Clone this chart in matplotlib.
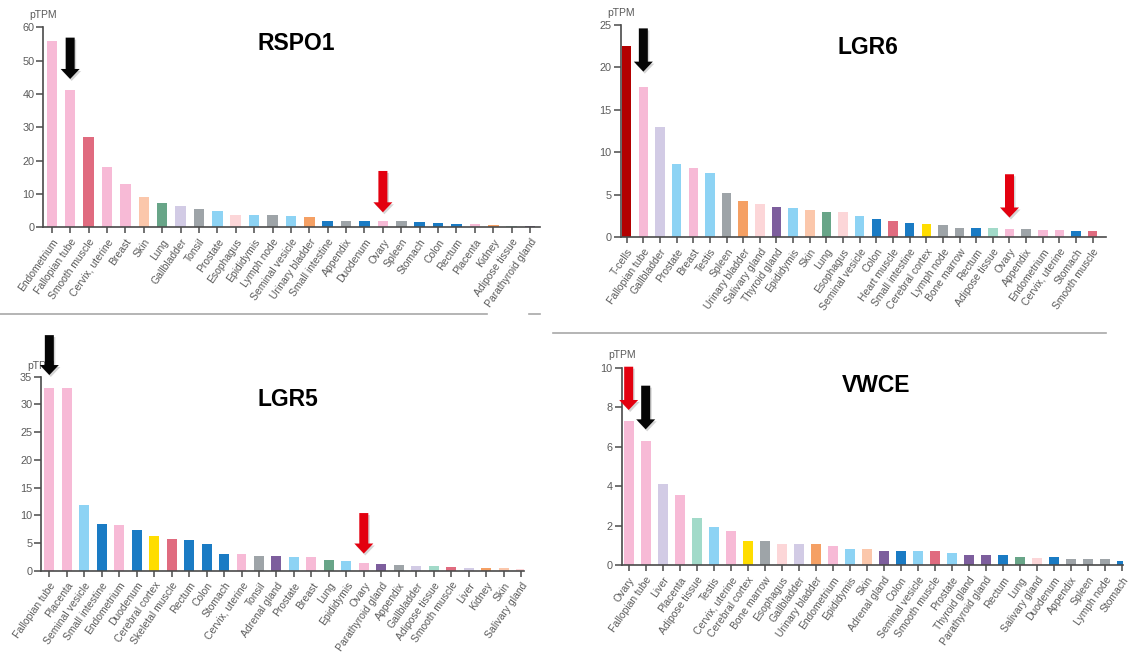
import matplotlib
matplotlib.use('Agg')
import matplotlib.pyplot as plt
from matplotlib.patches import Polygon
from matplotlib.lines import Line2D
from matplotlib.transforms import IdentityTransform

plt.rcParams['font.family'] = ['Liberation Sans', 'DejaVu Sans']

# ---------------- data ----------------
rspo1_tissues = ["Endometrium", "Fallopian tube", "Smooth muscle", "Cervix, uterine", "Breast", "Skin",
                 "Lung", "Gallbladder", "Tonsil", "Prostate", "Esophagus", "Epididymis", "Lymph node",
                 "Seminal vesicle", "Urinary bladder", "Small intestine", "Appendix", "Duodenum", "Ovary",
                 "Spleen", "Stomach", "Colon", "Rectum", "Placenta", "Kidney", "Adipose tissue",
                 "Parathyroid gland"]
rspo1_values = [55.9, 41.2, 27.2, 18.2, 13.0, 9.0, 7.2, 6.4, 5.4, 4.9, 3.6, 3.6, 3.6,
                3.4, 3.2, 2.0, 2.0, 2.0, 1.8, 1.8, 1.6, 1.2, 1.1, 1.0, 0.6, 0.5, 0.5]

lgr6_tissues = ["T-cells", "Fallopian tube", "Gallbladder", "Prostate", "Breast", "Testis", "Spleen",
                "Urinary bladder", "Salivary gland", "Thyroid gland", "Epididymis", "Skin", "Lung",
                "Esophagus", "Seminal vesicle", "Colon", "Heart muscle", "Small intestine",
                "Cerebral cortex", "Lymph node", "Bone marrow", "Rectum", "Adipose tissue", "Ovary",
                "Appendix", "Endometrium", "Cervix, uterine", "Stomach", "Smooth muscle"]
lgr6_values = [22.5, 17.7, 13.0, 8.6, 8.1, 7.5, 5.2, 4.2, 3.9, 3.5, 3.4, 3.2, 3.0, 3.0, 2.5, 2.1,
               1.9, 1.7, 1.5, 1.4, 1.1, 1.1, 1.1, 1.0, 1.0, 0.8, 0.8, 0.7, 0.7]

lgr5_tissues = ["Fallopian tube", "Placenta", "Seminal vesicle", "Small intestine", "Endometrium",
                "Duodenum", "Cerebral cortex", "Skeletal muscle", "Rectum", "Colon", "Stomach",
                "Cervix, uterine", "Tonsil", "Adrenal gland", "Prostate", "Breast", "Lung", "Epididymis",
                "Ovary", "Parathyroid gland", "Appendix", "Gallbladder", "Adipose tissue",
                "Smooth muscle", "Liver", "Kidney", "Skin", "Salivary gland"]
lgr5_values = [32.9, 32.9, 11.9, 8.5, 8.3, 7.4, 6.2, 5.75, 5.5, 4.85, 3.1, 2.95, 2.7, 2.6, 2.45,
               2.45, 2.0, 1.75, 1.3, 1.2, 0.95, 0.9, 0.85, 0.65, 0.55, 0.55, 0.5, 0.35]

vwce_tissues = ["Ovary", "Fallopian tube", "Liver", "Placenta", "Adipose tissue", "Testis",
                "Cervix, uterine", "Cerebral cortex", "Bone marrow", "Esophagus", "Gallbladder",
                "Urinary bladder", "Endometrium", "Epididymis", "Skin", "Adrenal gland", "Colon",
                "Seminal vesicle", "Smooth muscle", "Prostate", "Thyroid gland", "Parathyroid gland",
                "Rectum", "Lung", "Salivary gland", "Duodenum", "Appendix", "Spleen", "Lymph node",
                "Stomach"]
vwce_values = [7.3, 6.3, 4.1, 3.55, 2.4, 1.92, 1.73, 1.21, 1.21, 1.1, 1.1, 1.1, 1.0, 0.8, 0.8,
               0.72, 0.72, 0.72, 0.72, 0.62, 0.54, 0.54, 0.54, 0.4, 0.39, 0.4, 0.3, 0.3, 0.3, 0.22]

# ---------------- tissue group colours ----------------
PINK, MUSCLE, PEACH, GREEN = '#f7bad6', '#e06b7f', '#fbc7ab', '#68a588'
LAV, GRAY, LBLUE, LPINK = '#d2cbe5', '#9ea4a8', '#8dd3f4', '#fcd6d8'
ORANGE, BLUE, MINT, PURPLE = '#f5a064', '#1a7bc4', '#a2dac9', '#7d5e9d'
YELLOW, DRED = '#ffdd00', '#b30000'
tissue_color = {
    "Endometrium": PINK, "Fallopian tube": PINK, "Cervix, uterine": PINK, "Breast": PINK,
    "Ovary": PINK, "Placenta": PINK,
    "Smooth muscle": MUSCLE, "Heart muscle": MUSCLE, "Skeletal muscle": MUSCLE,
    "Skin": PEACH, "Lung": GREEN, "Gallbladder": LAV, "Liver": LAV,
    "Tonsil": GRAY, "Lymph node": GRAY, "Appendix": GRAY, "Spleen": GRAY, "Bone marrow": GRAY,
    "Prostate": LBLUE, "Epididymis": LBLUE, "Seminal vesicle": LBLUE, "Testis": LBLUE,
    "Esophagus": LPINK, "Salivary gland": LPINK,
    "Urinary bladder": ORANGE, "Kidney": ORANGE,
    "Small intestine": BLUE, "Duodenum": BLUE, "Stomach": BLUE, "Colon": BLUE, "Rectum": BLUE,
    "Adipose tissue": MINT,
    "Parathyroid gland": PURPLE, "Thyroid gland": PURPLE, "Adrenal gland": PURPLE,
    "Cerebral cortex": YELLOW, "T-cells": DRED,
}

W, H = 1130, 656
fig = plt.figure(figsize=(W / 100, H / 100), dpi=100)
fig.patch.set_facecolor('white')

AX_COL = '#4a4a4a'
TXT_COL = '#5a5a5a'


def make_panel(tissues, values, box, ymax, yticks, xpad, title, title_xy, ylab_y, arrows):
    left, right, y0, ytop = box
    ax = fig.add_axes([left / W, (H - y0) / H, (right - left) / W, (y0 - ytop) / H])
    x = list(range(len(tissues)))
    ax.bar(x, values, width=0.57, color=[tissue_color[t] for t in tissues], zorder=2)
    ax.set_xlim(xpad[0], len(tissues) - 1 + xpad[1])
    ax.set_ylim(0, ymax)
    ax.set_yticks(yticks)
    ax.set_xticks(x)
    ax.set_xticklabels(tissues, rotation=55, ha='right', va='top', rotation_mode='anchor',
                       fontsize=7.5, color=TXT_COL)
    ax.tick_params(axis='y', labelsize=7.8, labelcolor=TXT_COL, color=AX_COL, length=5, width=1.1, pad=1.5)
    ax.tick_params(axis='x', color=AX_COL, length=4, width=1.1, pad=3)
    for s in ['top', 'right']:
        ax.spines[s].set_visible(False)
    for s in ['left', 'bottom']:
        ax.spines[s].set_color(AX_COL)
        ax.spines[s].set_linewidth(1.2)
    ax.set_facecolor('none')
    fig.text(left / W, (H - ylab_y) / H, 'pTPM', ha='center', va='center', fontsize=7.5, color=TXT_COL)
    fig.text(title_xy[0] / W, (H - title_xy[1]) / H, title, ha='center', va='center',
             fontsize=16.5, fontweight='bold', color='black')
    # arrows (annotation marks pointing at categories)
    for idx, y_top, y_tip, col in arrows:
        xd, yt = ax.transData.transform((idx, y_tip))
        _, ys = ax.transData.transform((idx, y_top))
        sw, hw, hl = 9.0, 19.0, 10.0
        pts = [(xd - sw / 2, ys), (xd + sw / 2, ys), (xd + sw / 2, yt + hl), (xd + hw / 2, yt + hl),
               (xd, yt), (xd - hw / 2, yt + hl), (xd - sw / 2, yt + hl)]
        shadow = Polygon([(px + 1.5, py - 2) for px, py in pts], closed=True, transform=IdentityTransform(),
                         facecolor='#888888', edgecolor='none', alpha=0.35, zorder=9)
        arr = Polygon(pts, closed=True, transform=IdentityTransform(), facecolor=col,
                      edgecolor='none', zorder=10)
        fig.add_artist(shadow)
        fig.add_artist(arr)
    return ax


BLACK, RED = '#050505', '#e3000f'

make_panel(rspo1_tissues, rspo1_values, (43.3, 540, 227.3, 27.3), 60, [0, 10, 20, 30, 40, 50, 60],
           (-0.46, 0.54), 'RSPO1', (296, 44), 15,
           [(1, 56.9, 44.5, BLACK), (18, 16.9, 4.5, RED)])
make_panel(lgr6_tissues, lgr6_values, (620.7, 1105.7, 237, 25), 25, [0, 5, 10, 15, 20, 25],
           (-0.36, 0.78), 'LGR6', (868, 47), 13,
           [(1, 24.6, 19.5, BLACK), (23, 7.4, 2.3, RED)])
make_panel(lgr5_tissues, lgr5_values, (41.3, 524, 570.7, 376.7), 35, [0, 5, 10, 15, 20, 25, 30, 35],
           (-0.46, 0.17), 'LGR5', (288, 399), 366,
           [(0, 42.5, 35.3, BLACK), (18, 10.4, 3.1, RED)])
make_panel(vwce_tissues, vwce_values, (621.7, 1123, 565.3, 367.7), 10, [0, 2, 4, 6, 8, 10],
           (-0.41, 0.06), 'VWCE', (876, 385), 355,
           [(0, 10.05, 7.86, RED), (1, 9.09, 6.88, BLACK)])

# separator lines
SEP = '#a8a8a8'
for (x0, x1, y) in [(0, 487, 314), (529, 540, 314), (553, 1106, 333)]:
    fig.add_artist(Line2D([x0 / W, x1 / W], [(H - y) / H, (H - y) / H], transform=fig.transFigure,
                          color=SEP, linewidth=1.2))

fig.savefig('out.png', dpi=100)
